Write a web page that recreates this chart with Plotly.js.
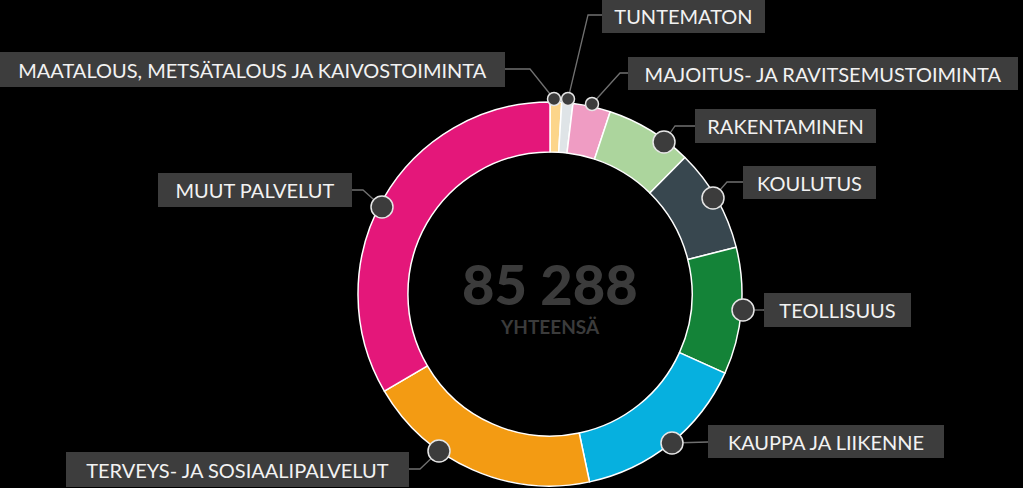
<!DOCTYPE html>
<html><head><meta charset="utf-8">
<script src="https://cdn.plot.ly/plotly-3.0.1.min.js"></script>
<style>html,body{margin:0;padding:0;background:#000;}#chart{width:1023px;height:488px;}</style>
</head><body><div id="chart"></div>
<script>
// ---- data ----
const categories = [
  "MAATALOUS, METSÄTALOUS JA KAIVOSTOIMINTA",
  "TUNTEMATON",
  "MAJOITUS- JA RAVITSEMUSTOIMINTA",
  "RAKENTAMINEN",
  "KOULUTUS",
  "TEOLLISUUS",
  "KAUPPA JA LIIKENNE",
  "TERVEYS- JA SOSIAALIPALVELUT",
  "MUUT PALVELUT"
];
const values = [830, 800, 2700, 6250, 7410, 9100, 12740, 16940, 28518];
const colors = ["#fcd58a", "#dfe4e7", "#ef9cc3", "#acd59d", "#38474f", "#148338", "#06b0df", "#f39b13", "#e4177a"];
const totalLabel = "85 288";
const totalCaption = "YHTEENSÄ";

// ---- layout helpers (pixel -> paper) ----
const W = 1023, H = 488;
const px = x => x / W;
const py = y => 1 - y / H;

// callout geometry: label box, dot, leader line (pixels)
const callouts = [
  {box:[0,52,505,87],   dot:[554,99,6.5], line:[[505,69],[530,69],[554,99]]},
  {box:[602,-2,765,33], dot:[568,99,6.5], line:[[568,99],[588,15],[602,15]]},
  {box:[628,57,1018,90],dot:[592,104,6.5],line:[[592,104],[620,73],[628,73]]},
  {box:[695,109,876,143],dot:[664,142,11],line:[[664,142],[675,126],[695,126]]},
  {box:[743,166,876,199],dot:[713,198,11],line:[[713,198],[727,182],[743,182]]},
  {box:[764,293,911,327],dot:[743,310,11],line:[[743,310],[764,310]]},
  {box:[708,425,944,458],dot:[672,443,11],line:[[672,443],[708,442]]},
  {box:[66,452,409,487], dot:[439,451,11],line:[[409,469],[420,469],[439,451]]},
  {box:[158,173,352,207],dot:[382,207,11],line:[[352,190],[363,190],[382,207]]}
];

const cx = 550, cy = 294, R = 192;

const trace = {
  type: "pie",
  labels: categories,
  values: values,
  sort: false,
  direction: "clockwise",
  rotation: 0,
  hole: 0.74,
  textinfo: "none",
  hoverinfo: "label+value+percent",
  marker: {colors: colors, line: {color: "#ffffff", width: 1.5}},
  domain: {x: [px(cx - R), px(cx + R)], y: [py(cy + R), py(cy - R)]},
  showlegend: false
};

const shapes = [];
const annotations = [];
const font = "Lato, 'Open Sans', sans-serif";

callouts.forEach((c, i) => {
  const d = c.line.map((p, k) => (k ? "L" : "M") + px(p[0]).toFixed(5) + "," + py(p[1]).toFixed(5)).join(" ");
  shapes.push({type: "path", xref: "paper", yref: "paper", path: d, line: {color: "#707070", width: 1.3}, layer: "above"});
});
callouts.forEach((c) => {
  const [x, y, r] = c.dot;
  shapes.push({type: "circle", xref: "paper", yref: "paper",
    x0: px(x - r), x1: px(x + r), y0: py(y + r), y1: py(y - r),
    fillcolor: "#3c3c3c", line: {color: "#e6e6e6", width: 1.5}, layer: "above"});
});
callouts.forEach((c, i) => {
  const [x0, y0, x1, y1] = c.box;
  annotations.push({
    xref: "paper", yref: "paper",
    x: px((x0 + x1) / 2), y: py((y0 + y1) / 2),
    xanchor: "center", yanchor: "middle",
    width: x1 - x0, height: y1 - y0,
    text: categories[i], showarrow: false,
    bgcolor: "#3d3d3d", borderpad: 0, borderwidth: 0,
    align: "center", valign: "middle",
    font: {family: font, size: 20, color: "#f2f2f2"}
  });
});

annotations.push({xref:"paper", yref:"paper", x: px(cx), y: py(283), xanchor:"center", yanchor:"middle",
  text: totalLabel, showarrow:false, font:{family: font, size: 56, weight: 900, color:"#3b3b3b"}});
annotations.push({xref:"paper", yref:"paper", x: px(cx), y: py(326), xanchor:"center", yanchor:"middle",
  text: totalCaption, showarrow:false, font:{family: font, size: 19, weight: 700, color:"#3b3b3b"}});

const layout = {
  width: W, height: H,
  margin: {l:0, r:0, t:0, b:0},
  paper_bgcolor: "#000000", plot_bgcolor: "#000000",
  shapes: shapes, annotations: annotations,
  showlegend: false
};

Plotly.newPlot("chart", [trace], layout, {displayModeBar: false, staticPlot: true});
</script>
</body></html>
